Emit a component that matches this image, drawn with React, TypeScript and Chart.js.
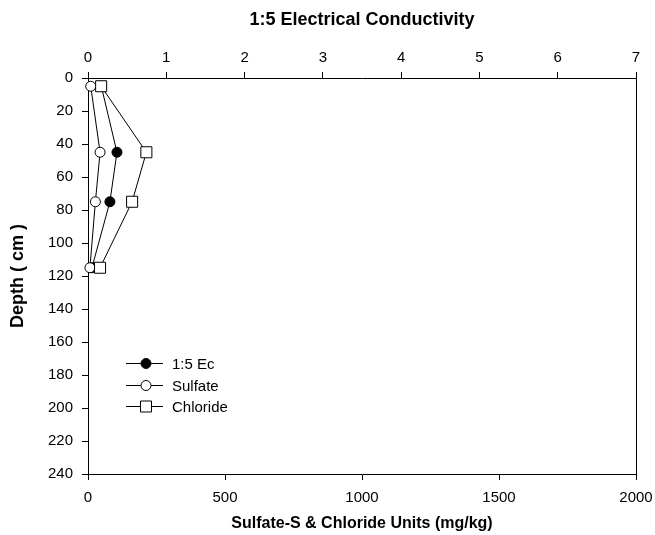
import React, { useEffect, useRef } from "react";
import { Chart, registerables } from "chart.js";
Chart.register(...registerables);

const depths = [5, 45, 75, 115];
const ecValues = [0.17, 0.37, 0.28, 0.05];
const sulfateValues = [10, 44, 27, 7];
const chlorideValues = [48, 213, 161, 44];
const legendLabels = ["1:5 Ec", "Sulfate", "Chloride"];
const chartTitle = "1:5 Electrical Conductivity";
const xTitle = "Sulfate-S & Chloride Units (mg/kg)";
const yTitle = "Depth ( cm )";

const FONT = "'Liberation Sans', Arial, sans-serif";

const extras = {
  id: "extras",
  afterDraw(chart: any) {
    const ctx = chart.ctx;
    const a = chart.chartArea;
    ctx.save();
    ctx.strokeStyle = "#000";
    ctx.lineWidth = 1;
    ctx.beginPath();
    ctx.moveTo(a.right + 0.5, a.top);
    ctx.lineTo(a.right + 0.5, a.bottom);
    ctx.stroke();
    ctx.fillStyle = "#000";
    ctx.font = `bold 18px ${FONT}`;
    ctx.textAlign = "center";
    ctx.textBaseline = "middle";
    ctx.fillText(chartTitle, (a.left + a.right) / 2, 20);
    const styles = [
      { shape: "circle", fill: "#000", r: 5 },
      { shape: "circle", fill: "#fff", r: 5 },
      { shape: "rect", fill: "#fff", r: 5.5 },
    ];
    const x0 = 126, x1 = 163, xm = 146;
    const ys = [363, 385, 406];
    ctx.font = `15px ${FONT}`;
    ctx.textAlign = "left";
    legendLabels.forEach((lab, i) => {
      const y = ys[i] + 0.5;
      ctx.strokeStyle = "#000";
      ctx.beginPath();
      ctx.moveTo(x0, y);
      ctx.lineTo(x1, y);
      ctx.stroke();
      const s = styles[i];
      ctx.fillStyle = s.fill;
      ctx.beginPath();
      if (s.shape === "circle") ctx.arc(xm, y, s.r, 0, Math.PI * 2);
      else ctx.rect(xm - s.r, y - s.r, 2 * s.r, 2 * s.r);
      ctx.fill();
      ctx.stroke();
      ctx.fillStyle = "#000";
      ctx.fillText(lab, 172, y + 1);
    });
    ctx.restore();
  },
};

export default function App() {
  const ref = useRef<HTMLCanvasElement>(null);
  useEffect(() => {
    const tickFont = { family: FONT, size: 15 };
    const fmt = (v: any) => String(v);
    const grid = {
      display: true,
      drawOnChartArea: false,
      drawTicks: true,
      tickLength: 6,
      color: "#000",
    };
    const border = { display: true, color: "#000", width: 1 };
    const chart = new Chart(ref.current!, {
      type: "scatter",
      data: {
        datasets: [
          {
            label: "Chloride",
            data: depths.map((d, i) => ({ x: chlorideValues[i], y: d })),
            xAxisID: "x",
            showLine: true,
            borderColor: "#000",
            borderWidth: 1,
            pointStyle: "rect",
            pointRadius: 7.8,
            pointBackgroundColor: "#fff",
            pointBorderColor: "#000",
            pointBorderWidth: 1,
            clip: false,
          },
          {
            label: "Sulfate",
            data: depths.map((d, i) => ({ x: sulfateValues[i], y: d })),
            xAxisID: "x",
            showLine: true,
            borderColor: "#000",
            borderWidth: 1,
            pointStyle: "circle",
            pointRadius: 5,
            pointBackgroundColor: "#fff",
            pointBorderColor: "#000",
            pointBorderWidth: 1,
            clip: false,
          },
          {
            label: "1:5 Ec",
            data: depths.map((d, i) => ({ x: ecValues[i], y: d })),
            xAxisID: "x2",
            showLine: true,
            borderColor: "#000",
            borderWidth: 1,
            pointStyle: "circle",
            pointRadius: 5,
            pointBackgroundColor: "#000",
            pointBorderColor: "#000",
            pointBorderWidth: 1,
            clip: false,
          },
        ],
      },
      options: {
        animation: false,
        responsive: false,
        layout: { padding: { left: 0, right: 19, top: 0, bottom: 0 } },
        plugins: { legend: { display: false }, tooltip: { enabled: false } },
        scales: {
          x: {
            type: "linear",
            position: "bottom",
            min: 0,
            max: 2000,
            ticks: { color: "#000", font: tickFont, stepSize: 500, padding: 9, maxRotation: 0, callback: fmt },
            grid,
            border,
            title: {
              display: true,
              text: xTitle,
              color: "#000",
              font: { family: FONT, size: 16, weight: "bold" },
              padding: { top: 2, bottom: 2 },
            },
            afterFit: (s: any) => {
              s.height = 61;
              s.paddingLeft = 0;
              s.paddingRight = 0;
            },
          },
          x2: {
            type: "linear",
            position: "top",
            min: 0,
            max: 7,
            ticks: { color: "#000", font: tickFont, stepSize: 1, padding: 5, maxRotation: 0, callback: fmt },
            grid,
            border,
            afterFit: (s: any) => {
              s.height = 78;
              s.paddingLeft = 0;
              s.paddingRight = 0;
            },
          },
          y: {
            type: "linear",
            reverse: true,
            min: 0,
            max: 240,
            ticks: { color: "#000", font: tickFont, stepSize: 20, padding: 9, callback: fmt },
            grid,
            border,
            title: {
              display: true,
              text: yTitle,
              color: "#000",
              font: { family: FONT, size: 18, weight: "bold" },
              padding: { top: 7, bottom: 2 },
            },
            afterFit: (s: any) => {
              s.width = 88;
              s.paddingTop = 0;
              s.paddingBottom = 0;
            },
          },
        },
      },
      plugins: [extras],
    } as any);
    return () => chart.destroy();
  }, []);
  return (
    <div style={{ position: "fixed", left: 0, top: 0, width: 655, height: 535, background: "#fff" }}>
      <canvas ref={ref} width={655} height={535} style={{ width: 655, height: 535 }} />
    </div>
  );
}
